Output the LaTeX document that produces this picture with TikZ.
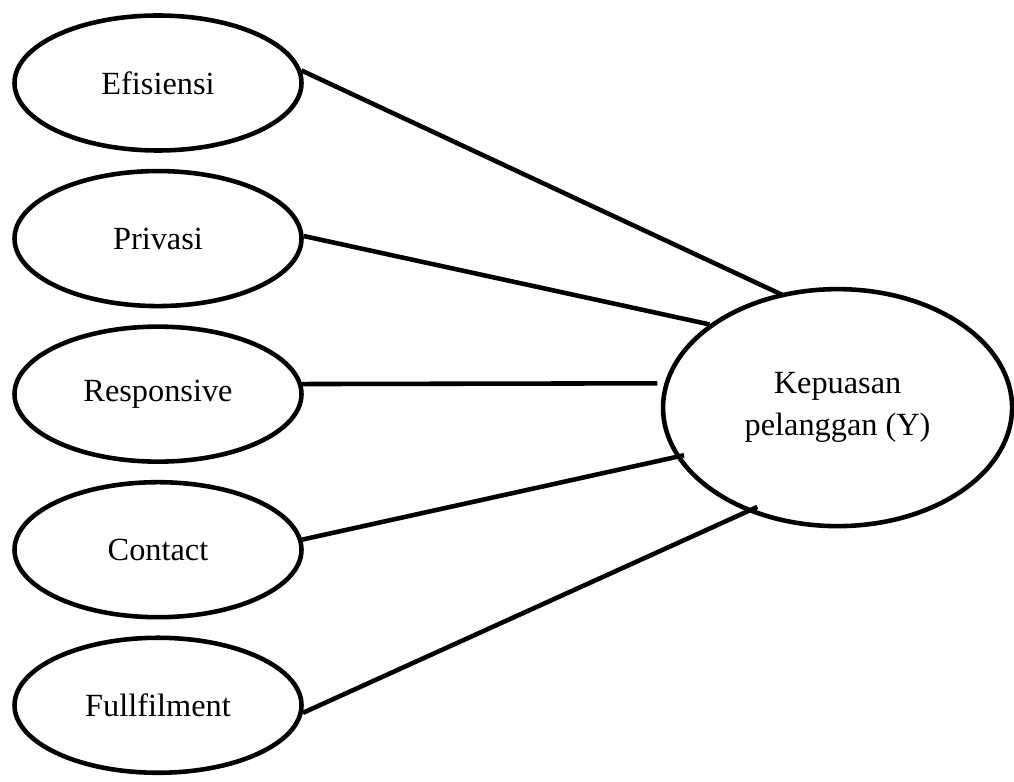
\documentclass[tikz,border=0pt]{standalone}
\usepackage{fontspec}
\setmainfont{Liberation Serif}
\usetikzlibrary{positioning,shapes.geometric}

\begin{document}
\begin{tikzpicture}[node distance=0.32cm,var/.style={draw,ellipse,line width=2.6pt,
 inner sep=0pt,minimum width=5.74cm,minimum height=2.7cm,font=\fontsize{18.4}{24}\selectfont},
 link/.style={draw,line width=2.6pt}]
\useasboundingbox (0,0) rectangle (20.28,15.64);
\node[var] (efis) at (3.16,13.98) {Efisiensi};
\node[var,below=of efis] (priv) {Privasi};
\node[var,below=of priv] (resp) {Responsive};
\node[var,below=of resp] (cont) {Contact};
\node[var,below=of cont] (full) {Fullfilment};
\node[var,align=center,minimum width=6.98cm,minimum height=4.74cm,right=7.14cm of resp,
 yshift=-0.27cm] (kp) {Kepuasan\\pelanggan (Y)};
\foreach \a/\p/\q/\s in {efis/5/117/-0.08cm,priv/1/147/0cm,resp/4/172/0.14cm,
 cont/4/197/-0.16cm,full/357/229/-0.22cm} \draw[link,shorten >=\s] (\a.\p)--(kp.\q);
\end{tikzpicture}
\end{document}
